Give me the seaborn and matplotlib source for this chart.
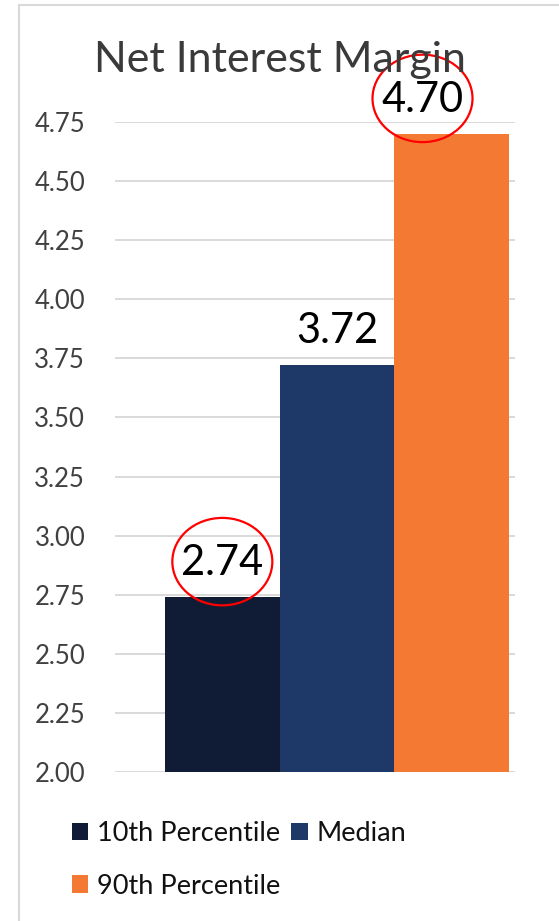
import pandas as pd
import matplotlib.pyplot as plt
from matplotlib.patches import Patch, Ellipse, Rectangle
import seaborn as sns

# ── Datos ─────────────────────────────────────────────────────
series = ['10th Percentile', 'Median', '90th Percentile']
values = [2.74, 3.72, 4.70]
colors = ['#101C36', '#1E3867', '#F47A34']
yticks = [2.00, 2.25, 2.50, 2.75, 3.00, 3.25, 3.50, 3.75, 4.00, 4.25, 4.50, 4.75]
circled = ['10th Percentile', '90th Percentile']

# ── Configuración visual ──────────────────────────────────────
sns.set_theme(style='white')
plt.rcParams['font.family'] = ['Lato', 'DejaVu Sans']

df = pd.DataFrame({'grupo': ['NIM'] * len(series), 'serie': series, 'valor': values})

fig = plt.figure(figsize=(5.59, 9.21), dpi=100)
fig.patch.set_facecolor('white')
ax = fig.add_axes([0.2057, 0.1618, 0.7156, 0.7057])

sns.barplot(data=df, x='grupo', y='valor', hue='serie', hue_order=series,
            palette=colors, saturation=1, width=0.86, linewidth=0,
            legend=False, ax=ax)

ax.set_ylim(2.0, 4.75)
ax.set_xlim(-0.555, 0.445)
ax.set_yticks(yticks)
ax.set_yticklabels([f'{t:.2f}' for t in yticks])
ax.set_xticks([])
ax.set_xlabel('')
ax.set_ylabel('')
ax.yaxis.grid(True, color='#D9D9D9', lw=1.4)
ax.set_axisbelow(True)
for s in ax.spines.values():
    s.set_visible(False)
ax.tick_params(axis='y', length=0, pad=21.5, labelsize=18.5, labelcolor='#404040')

# ── Etiquetas de datos y elipses ──────────────────────────────
label_dx = [0, 0, -21]   # desplazamiento horizontal en puntos
bars = ax.patches[:len(series)]
for barra, serie, valor, dx in zip(bars, series, values, label_dx):
    cx = barra.get_x() + barra.get_width() / 2
    ax.annotate(f'{valor:.2f}', xy=(cx, valor), xytext=(dx, 11),
                textcoords='offset points', ha='center', va='bottom',
                fontsize=30, color='black')
    if serie in circled:
        ex = cx + dx / 72 * 100 / 400
        elipse = Ellipse((ex, valor + 0.15), width=0.25, height=0.37,
                         fill=False, edgecolor='#FF0000', lw=1.6, clip_on=False)
        ax.add_patch(elipse)

# ── Título ────────────────────────────────────────────────────
fig.text(0.5, 1 - 72 / 921, 'Net Interest Margin', ha='center', va='baseline',
         fontsize=31, color='#3A3A3A')

# ── Leyenda ───────────────────────────────────────────────────
handles = {s: Patch(facecolor=c, edgecolor='none') for s, c in zip(series, colors)}
order = ['10th Percentile', '90th Percentile', 'Median']
fig.legend([handles[s] for s in order], order, loc='upper left',
           bbox_to_anchor=(72 / 559, 1 - 821 / 921), ncol=2, frameon=False,
           fontsize=19.5, handlelength=0.6, handleheight=0.6,
           handletextpad=0.33, columnspacing=0.4, labelspacing=1.02,
           borderpad=0, borderaxespad=0, labelcolor='#111111')

# ── Marco del gráfico ─────────────────────────────────────────
fig.patches.append(Rectangle((19 / 559, -0.1), 1.2, 1.1 - 5 / 921, fill=False,
                             edgecolor='#D9D9D9', lw=1.5, transform=fig.transFigure))

fig.savefig('out.png', dpi=100)
